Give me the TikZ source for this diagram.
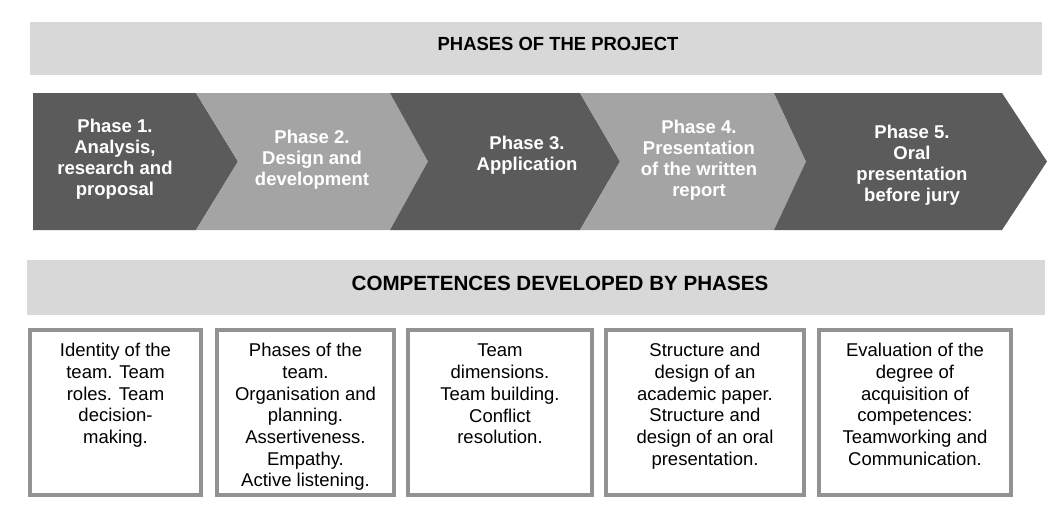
\documentclass[tikz,border=0pt]{standalone}
\usepackage{fontspec}
\setmainfont{Liberation Sans}
\definecolor{darkphase}{HTML}{5B5B5B}
\definecolor{lightphase}{HTML}{A4A4A4}
\definecolor{bannergray}{HTML}{D8D8D8}
\definecolor{boxedge}{HTML}{929292}

\begin{document}
\begin{tikzpicture}[x=1pt, y=-1pt,
  banner/.style={fill=bannergray},
  bannertext/.style={font=\fontsize{19}{22}\selectfont\bfseries, inner sep=0},
  phasetext/.style={text=white, align=center, inner sep=0,
    font=\fontsize{18.5}{21}\selectfont\bfseries},
  compbox/.style={draw=boxedge, line width=4pt, fill=white},
  comptext/.style={align=center, anchor=north, inner sep=0,
    font=\fontsize{18.5}{21.7}\selectfont}]
  \useasboundingbox (0,0) rectangle (1058,509);

  \fill[banner] (30,22) rectangle (1042,75);
  \node[bannertext] (projtitle) at (558,44) {\scalebox{0.97}[1]{PHASES OF THE PROJECT}};

  \fill[darkphase] (33,93) -- (196,93) -- (238,161.5) -- (196,230) -- (33,230) -- cycle;
  \fill[lightphase] (196,93) -- (390,93) -- (428,161.5) -- (390,230) -- (196,230) -- (238,161.5) -- cycle;
  \fill[darkphase] (390,93) -- (580,93) -- (620,161.5) -- (580,230) -- (390,230) -- (428,161.5) -- cycle;
  \fill[lightphase] (580,93) -- (774,93) -- (806,161.5) -- (774,230) -- (580,230) -- (620,161.5) -- cycle;
  \fill[darkphase] (774,93) -- (1002,93) -- (1047,161.5) -- (1002,230) -- (774,230) -- (806,161.5) -- cycle;

  \node[phasetext] (phase1) at (115,159) {Phase 1.\\Analysis,\\research and\\proposal};
  \node[phasetext] (phase2) at (312,160) {Phase 2.\\Design and\\development};
  \node[phasetext] (phase3) at (527,155) {Phase 3.\\Application};
  \node[phasetext] (phase4) at (699,160) {Phase 4.\\Presentation\\of the written\\report};
  \node[phasetext] (phase5) at (912,165) {Phase 5.\\Oral\\presentation\\before jury};

  \fill[banner] (27,260) rectangle (1045,315);
  \node[bannertext, font=\fontsize{20.6}{22}\selectfont\bfseries] (comptitle) at (560,283) {COMPETENCES DEVELOPED BY PHASES};

  \draw[compbox] (30,330) rectangle (201,495);
  \draw[compbox] (217,330) rectangle (394,495);
  \draw[compbox] (408,330) rectangle (592,495);
  \draw[compbox] (606,330) rectangle (804,495);
  \draw[compbox] (819,330) rectangle (1011,495);

  \node[comptext] (comp1) at (115.5,343) {Identity of the\\team. Team\\roles. Team\\decision-\\making.};
  \node[comptext] (comp2) at (305.5,343) {Phases of the\\team.\\Organisation and\\planning.\\Assertiveness.\\Empathy.\\Active listening.};
  \node[comptext] (comp3) at (500,344) {Team\\dimensions.\\Team building.\\Conflict\\resolution.};
  \node[comptext] (comp4) at (705,343) {Structure and\\design of an\\academic paper.\\Structure and\\design of an oral\\presentation.};
  \node[comptext] (comp5) at (915,343) {Evaluation of the\\degree of\\acquisition of\\competences:\\Teamworking and\\Communication.};
\end{tikzpicture}
\end{document}
